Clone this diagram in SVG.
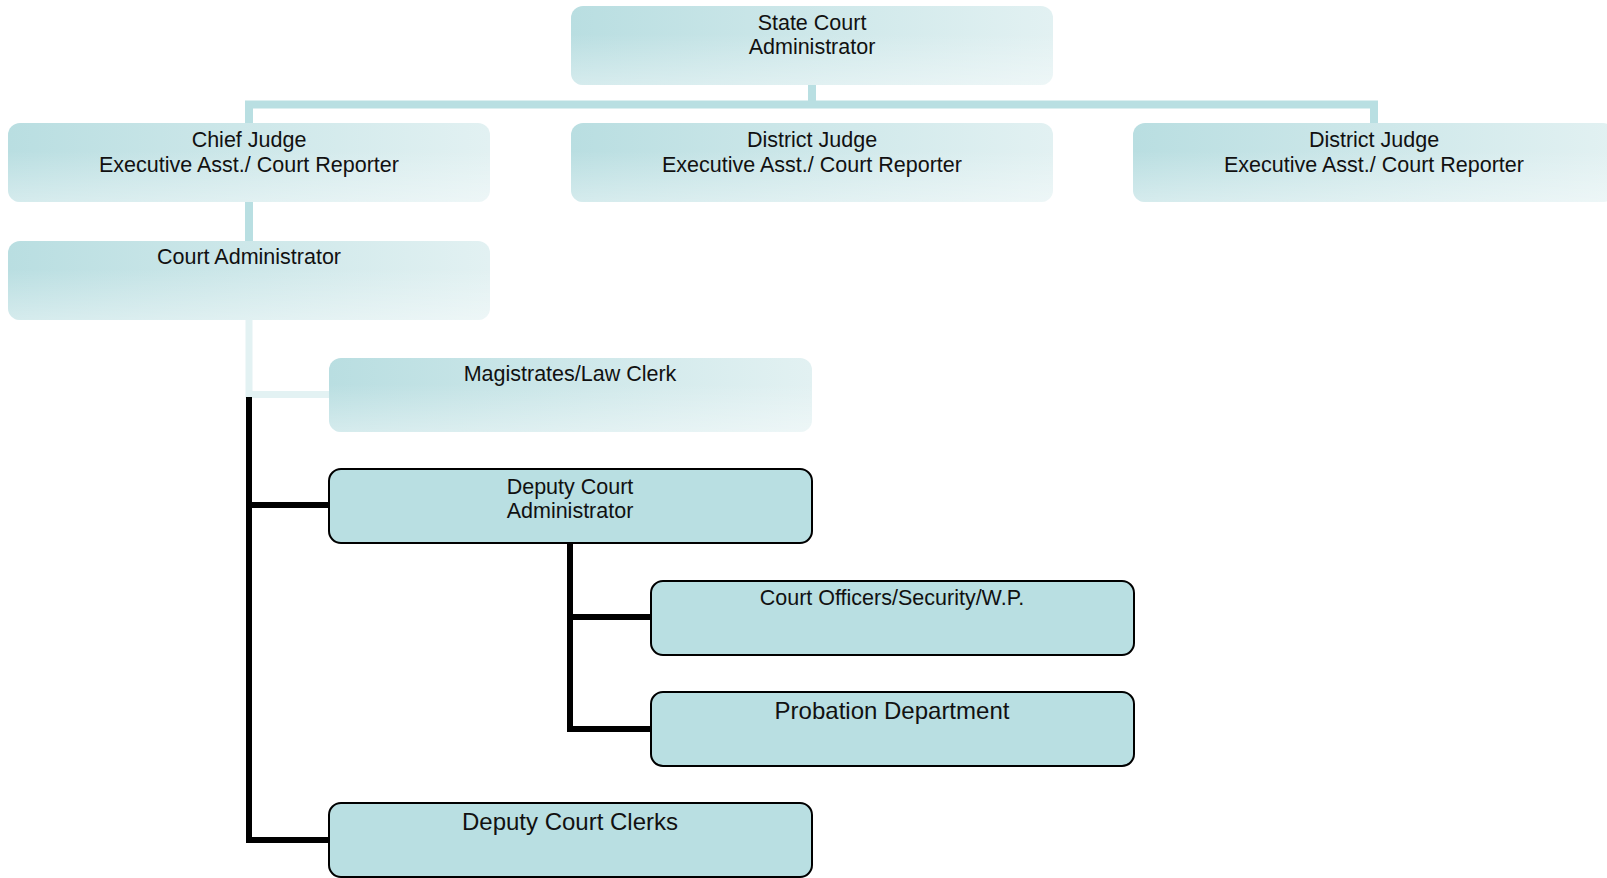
<svg xmlns="http://www.w3.org/2000/svg" width="1607" height="878" viewBox="0 0 1607 878">
<defs>
<linearGradient id="gh" x1="0" y1="0" x2="1" y2="0">
<stop offset="0" stop-color="#b9dee1"/>
<stop offset="1" stop-color="#e2f1f2"/>
</linearGradient>
<linearGradient id="gv" x1="0" y1="0" x2="0" y2="1">
<stop offset="0" stop-color="#ffffff" stop-opacity="0"/>
<stop offset="0.35" stop-color="#ffffff" stop-opacity="0"/>
<stop offset="1" stop-color="#ffffff" stop-opacity="0.4"/>
</linearGradient>
</defs>
<style>
.lb{fill:url(#gh);}
.lo{fill:url(#gv);}
.db{fill:#b9dfe2;stroke:#000;stroke-width:2;}
text{font-family:"Liberation Sans",Arial,sans-serif;font-size:21.5px;fill:#111;text-anchor:middle;}
.big{font-size:24px;}
.ct{stroke:#b9dfe2;stroke-width:8;fill:none;}
.cl{stroke:#e3f2f3;stroke-width:7;fill:none;}
.cb{stroke:#000;stroke-width:6;fill:none;}
</style>
<rect width="1607" height="878" fill="#ffffff"/>
<g id="connectors">
<path class="ct" d="M812 85V104.5M249 123V104.5H1374V123M249 202V241"/>
<path class="cl" d="M249 320V394.5H329"/>
<path class="cb" d="M249 397V840H329M249 505H329"/>
<path class="cb" d="M570 543V729H651M570 617H651"/>
</g>
<g id="state-court-admin">
<rect class="lb" x="571" y="6" width="482" height="79" rx="12"/>
<rect class="lo" x="571" y="6" width="482" height="79" rx="12"/>
<text x="812" y="30">State Court</text>
<text x="812" y="54">Administrator</text>
</g>
<g id="chief-judge">
<rect class="lb" x="8" y="123" width="482" height="79" rx="12"/>
<rect class="lo" x="8" y="123" width="482" height="79" rx="12"/>
<text x="249" y="147">Chief Judge</text>
<text x="249" y="172">Executive Asst./ Court Reporter</text>
</g>
<g id="district-judge-1">
<rect class="lb" x="571" y="123" width="482" height="79" rx="12"/>
<rect class="lo" x="571" y="123" width="482" height="79" rx="12"/>
<text x="812" y="147">District Judge</text>
<text x="812" y="172">Executive Asst./ Court Reporter</text>
</g>
<g id="district-judge-2">
<rect class="lb" x="1133" y="123" width="482" height="79" rx="12"/>
<rect class="lo" x="1133" y="123" width="482" height="79" rx="12"/>
<text x="1374" y="147">District Judge</text>
<text x="1374" y="172">Executive Asst./ Court Reporter</text>
</g>
<g id="court-admin">
<rect class="lb" x="8" y="241" width="482" height="79" rx="12"/>
<rect class="lo" x="8" y="241" width="482" height="79" rx="12"/>
<text x="249" y="264">Court Administrator</text>
</g>
<g id="magistrates">
<rect class="lb" x="329" y="358" width="483" height="74" rx="12"/>
<rect class="lo" x="329" y="358" width="483" height="74" rx="12"/>
<text x="570" y="381">Magistrates/Law Clerk</text>
</g>
<g id="deputy-court-admin">
<rect class="db" x="329" y="469" width="483" height="74" rx="12"/>
<text x="570" y="494">Deputy Court</text>
<text x="570" y="518">Administrator</text>
</g>
<g id="court-officers">
<rect class="db" x="651" y="581" width="483" height="74" rx="12"/>
<text x="892" y="605">Court Officers/Security/W.P.</text>
</g>
<g id="probation">
<rect class="db" x="651" y="692" width="483" height="74" rx="12"/>
<text class="big" x="892" y="719">Probation Department</text>
</g>
<g id="deputy-clerks">
<rect class="db" x="329" y="803" width="483" height="74" rx="12"/>
<text class="big" x="570" y="830">Deputy Court Clerks</text>
</g>
</svg>
